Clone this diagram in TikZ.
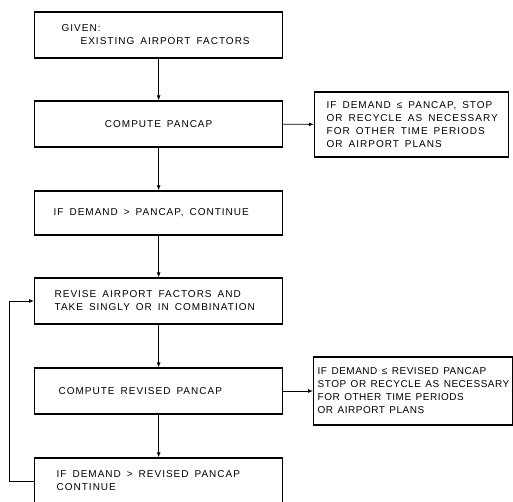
\documentclass[tikz,border=0pt]{standalone}
\usepackage{fontspec}
\setmainfont{Liberation Sans}[LetterSpace=10]
\usetikzlibrary{arrows.meta}
\newcommand{\gapwords}[1]{\spaceskip=#1\relax\xspaceskip=#1\relax}

\begin{document}
\begin{tikzpicture}[x=1pt, y=-1pt, >={Latex[length=5pt,width=4pt]},
every node/.style={font=\fontsize{10}{13}\selectfont},
flowbox/.style={draw, line width=1.3pt, anchor=west, align=left, minimum height=46pt},
sidebox/.style={draw, line width=1.4pt, anchor=west, align=left, inner xsep=4pt}]
\useasboundingbox (0,0) rectangle (513,501);
%================================================================
%	Boxes
\node[flowbox, inner xsep=27pt, text width=194pt] (given) at (34,35)
  {\gapwords{6pt}GIVEN:\\\hspace*{19pt}EXISTING AIRPORT FACTORS};
\node[flowbox, inner xsep=0pt, text width=248pt, align=center] (pancap) at (34,124)
  {\gapwords{6pt}COMPUTE PANCAP};
\node[flowbox, inner xsep=19pt, text width=210pt, minimum height=44pt] (cont1) at (34,213)
  {\gapwords{6pt}IF DEMAND > PANCAP, CONTINUE};
\node[flowbox, inner xsep=20pt, text width=208pt] (revise) at (34,301)
  {\gapwords{6pt}REVISE AIRPORT FACTORS AND\\TAKE SINGLY OR IN COMBINATION};
\node[flowbox, inner xsep=24pt, text width=200pt] (rpancap) at (34,391)
  {\gapwords{6pt}COMPUTE REVISED PANCAP};
\node[flowbox, inner xsep=22pt, text width=204pt] (cont2) at (34,481)
  {\gapwords{6pt}IF DEMAND > REVISED PANCAP\\CONTINUE};

%----------------------------------------------------------------
\node[sidebox, inner xsep=12pt, text width=170pt, minimum height=65pt] (stop1) at (314,124.5)
  {\gapwords{6pt}IF DEMAND ≤ PANCAP, STOP\\OR RECYCLE AS NECESSARY\\FOR OTHER TIME PERIODS\\OR AIRPORT PLANS};
\node[sidebox, text width=191pt, minimum height=68pt,
  font=\fontsize{10}{13}\selectfont\addfontfeatures{LetterSpace=5}] (stop2) at (313,391)
  {\gapwords{4.5pt}IF DEMAND ≤ REVISED PANCAP\\STOP OR RECYCLE AS NECESSARY\\FOR OTHER TIME PERIODS\\OR AIRPORT PLANS};

%================================================================
%	Lines
\begin{scope}[line width=0.9pt]
\draw [->] (given) to (pancap);
\draw [->] (pancap) to (cont1);
\draw [->] (cont1) to (revise);
\draw [->] (revise) to (rpancap);
\draw [->] (rpancap) to (cont2);

\draw [->] (pancap) to (stop1);
\draw [->] (rpancap) to (stop2);

\draw [->] (cont2.west) -- ++(-25,0) |- (revise.west);
\end{scope}
%================================================================
\end{tikzpicture}
\end{document}
